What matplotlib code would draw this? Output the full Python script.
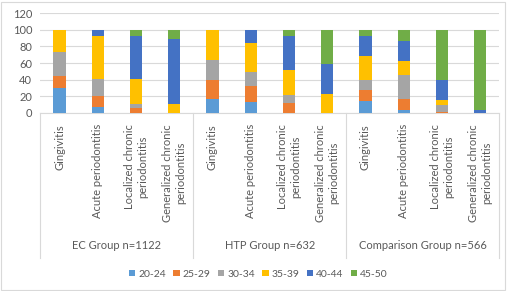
import numpy as np
import matplotlib
matplotlib.use("Agg")
import matplotlib.pyplot as plt
from matplotlib.transforms import blended_transform_factory

plt.rcParams["font.family"] = ["Lato", "DejaVu Sans"]

groups = ["EC Group n=1122", "HTP Group n=632", "Comparison Group n=566"]
diagnoses = ["Gingivitis", "Acute periodontitis",
             "Localized chronic\nperiodontitis", "Generalized chronic\nperiodontitis"]
age_bands = ["20-24", "25-29", "30-34", "35-39", "40-44", "45-50"]
colors = ["#5B9BD5", "#ED7D31", "#A5A5A5", "#FFC000", "#4472C4", "#70AD47"]

# percent per age band, 12 bars: EC x4, HTP x4, Comparison x4
age_20_24 = [30, 7, 0, 0, 17, 13, 0, 0, 14, 3, 0, 0]
age_25_29 = [14, 13, 6, 0, 23, 19, 12, 0, 13, 14, 1, 0]
age_30_34 = [29, 21, 5, 0, 24, 17, 9, 0, 13, 28, 8, 0]
age_35_39 = [27, 51, 30, 11, 36, 35, 30, 23, 28, 17, 6, 0]
age_40_44 = [0, 8, 52, 78, 0, 16, 42, 36, 25, 25, 25, 4]
age_45_50 = [0, 0, 7, 11, 0, 0, 7, 41, 7, 13, 60, 96]

series = [age_20_24, age_25_29, age_30_34, age_35_39, age_40_44, age_45_50]

fig = plt.figure(figsize=(5.12, 2.91), dpi=100)
ax = fig.add_axes([0.079, 0.612, 0.896, 0.343])

x = np.arange(len(groups) * len(diagnoses))
bottom = np.zeros(len(x))
for vals, lab, c in zip(series, age_bands, colors):
    ax.bar(x, vals, width=0.32, bottom=bottom, color=c, label=lab, zorder=3)
    bottom += np.array(vals)

ax.set_xlim(-0.5, len(x) - 0.5)
ax.set_ylim(0, 120)
ax.set_yticks(range(0, 121, 20))
ax.yaxis.grid(True, color="#D9D9D9", linewidth=0.8, zorder=0)
for s in ["top", "right", "left"]:
    ax.spines[s].set_visible(False)
ax.spines["bottom"].set_color("#D9D9D9")
ax.tick_params(axis="y", length=0, labelsize=8, labelcolor="#595959", pad=6)
ax.set_xticks(x)
ax.set_xticklabels(diagnoses * len(groups), rotation=90, fontsize=8,
                   color="#595959", va="top", ha="center", multialignment="center")
ax.tick_params(axis="x", length=0, pad=8)

trans = blended_transform_factory(ax.transData, ax.transAxes)
n = len(diagnoses)
for i in range(len(groups) + 1):
    xp = i * n - 0.5
    ax.plot([xp, xp], [0, -1.45], color="#D9D9D9", linewidth=0.8,
            transform=trans, clip_on=False)
for i, g in enumerate(groups):
    ax.text(i * n + (n - 1) / 2, -1.33, g, transform=trans, ha="center",
            va="center", fontsize=8, color="#595959")

fig.legend(loc="center", bbox_to_anchor=(0.505, 0.058), ncol=6, frameon=False,
           fontsize=7.5, handlelength=0.6, handleheight=0.6, handletextpad=0.3,
           columnspacing=0.7, labelcolor="#595959")

fig.patches.append(plt.Rectangle((0.002, 0.003), 0.985, 0.99, transform=fig.transFigure,
                                 fill=False, edgecolor="#D9D9D9", linewidth=0.8))

fig.savefig("out.png", dpi=100)
